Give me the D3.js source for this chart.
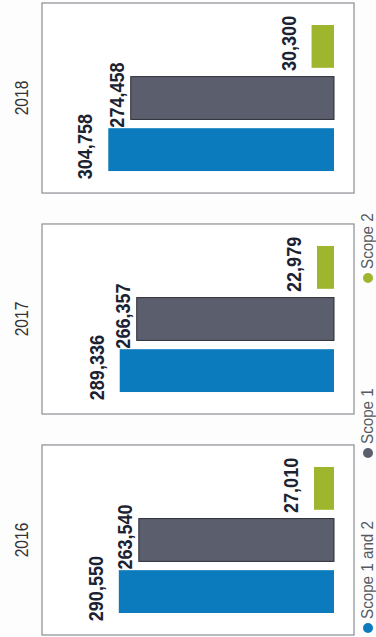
<!DOCTYPE html>
<html>
<head>
<meta charset="utf-8">
<script src="https://cdn.jsdelivr.net/npm/d3@7"></script>
<style>
  html, body { margin: 0; padding: 0; background: #fdfdfd; }
  svg { display: block; }
  text { font-family: "Liberation Sans", Arial, sans-serif; }
</style>
</head>
<body>
<svg id="chart" width="376" height="637"></svg>
<script>
// Emissions by year (tonnes CO2e)
const years = ["2016", "2017", "2018"];
const series = ["Scope 1 and 2", "Scope 1", "Scope 2"];
const scope12 = [290550, 289336, 304758];
const scope1 = [263540, 266357, 274458];
const scope2 = [27010, 22979, 30300];

const colors = { "Scope 1 and 2": "#0b7bbd", "Scope 1": "#5b5e6d", "Scope 2": "#9db62d" };
const barStroke = { "Scope 1 and 2": "none", "Scope 1": "#2c2d36", "Scope 2": "none" };
const labelGap = { "Scope 1 and 2": 16, "Scope 1": 7, "Scope 2": 16 };

const rows = years.map((y, i) => ({
  year: y,
  values: [
    { key: "Scope 1 and 2", value: scope12[i] },
    { key: "Scope 1", value: scope1[i] },
    { key: "Scope 2", value: scope2[i] }
  ]
}));

// The chart is laid out as an upright column chart (637 wide, 376 tall)
// and then turned a quarter turn so it reads sideways in the page.
const W = 637, H = 376;
const svg = d3.select("#chart");
const g = svg.append("g").attr("transform", `translate(0,${W}) rotate(-90)`);

const panelScale = d3.scaleBand().domain(years).range([2, 634]).paddingInner(0.14);
const pw = panelScale.bandwidth();
const seriesScale = d3.scaleBand().domain(series).range([22, pw - 22]).paddingInner(0.17);
const valueScale = d3.scaleLinear().domain([0, 320000]).range([334, 97]);
const fmt = d3.format(",");

const panel = g.selectAll("g.panel")
  .data(rows)
  .join("g")
  .attr("class", "panel")
  .attr("transform", d => `translate(${panelScale(d.year)},0)`);

panel.append("rect")
  .attr("x", 0).attr("y", 42)
  .attr("width", pw).attr("height", 312)
  .attr("fill", "#ffffff")
  .attr("stroke", "#8a8d93")
  .attr("stroke-width", 1.2);

// Year titles, set in a condensed cut of the face
panel.append("text")
  .attr("transform", `translate(${pw / 2},28) scale(0.82,1)`)
  .attr("text-anchor", "middle")
  .attr("font-size", 19)
  .attr("fill", "#333333")
  .text(d => d.year);

panel.selectAll("rect.bar")
  .data(d => d.values)
  .join("rect")
  .attr("class", "bar")
  .attr("x", d => seriesScale(d.key))
  .attr("width", seriesScale.bandwidth())
  .attr("y", d => valueScale(d.value))
  .attr("height", d => valueScale(0) - valueScale(d.value))
  .attr("fill", d => colors[d.key])
  .attr("stroke", d => barStroke[d.key])
  .attr("stroke-width", 1);

panel.selectAll("text.value")
  .data(d => d.values)
  .join("text")
  .attr("class", "value")
  .attr("transform", d =>
    `translate(${seriesScale(d.key) + seriesScale.bandwidth() / 2 + 3},${valueScale(d.value) - labelGap[d.key]}) scale(0.86,1)`)
  .attr("text-anchor", "middle")
  .attr("font-size", 21)
  .attr("font-weight", "bold")
  .attr("fill", "#1b2232")
  .text(d => fmt(d.value));

// Legend along the bottom edge of the upright layout
const legendStep = 175;
const legend = g.selectAll("g.legend")
  .data(series)
  .join("g")
  .attr("class", "legend")
  .attr("transform", (d, i) => `translate(${9 + i * legendStep},368)`);

legend.append("circle")
  .attr("r", 5)
  .attr("fill", d => colors[d]);

legend.append("text")
  .attr("transform", "translate(9,5) scale(0.95,1)")
  .attr("font-size", 16)
  .attr("fill", "#555a60")
  .text(d => d);
</script>
</body>
</html>
